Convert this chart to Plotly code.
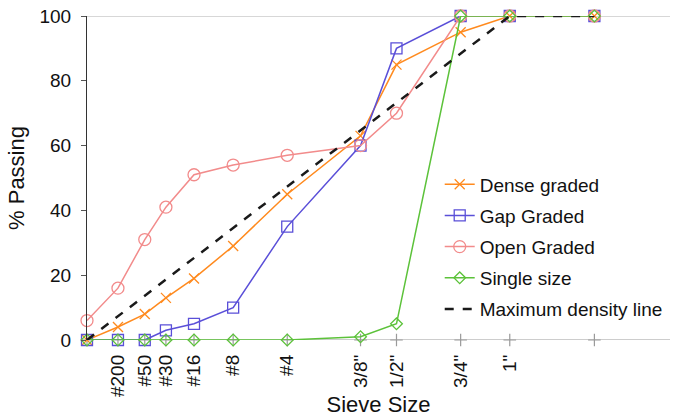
import plotly.graph_objects as go

# Sieve sizes (mm) and labels; pan represented as 0
sieve_mm = [0, 0.075, 0.3, 0.6, 1.18, 2.36, 4.75, 9.5, 12.5, 19.0, 25.0, 37.5]
sieve_labels = ["", "#200", "#50", "#30", "#16", "#8", "#4", "3/8\"", "1/2\"", "3/4\"", "1\"", ""]

dense = [0, 4, 8, 13, 19, 29, 45, 63, 85, 95, 100, 100]
gap = [0, 0, 0, 3, 5, 10, 35, 60, 90, 100, 100, 100]
open_g = [6, 16, 31, 41, 51, 54, 57, 60, 70, 100, 100, 100]
single = [0, 0, 0, 0, 0, 0, 0, 1, 5, 100, 100, 100]

maxden_mm = [0, 25.0, 37.5]
maxden_val = [0, 100, 100]

POW = 0.45
def xs(v):
    return [s ** POW for s in v]

X = xs(sieve_mm)

fig = go.Figure()

# "+" tick marks along the x axis
fig.add_trace(go.Scatter(
    x=X, y=[0] * len(X), mode="markers", showlegend=False, hoverinfo="skip",
    marker=dict(symbol="cross-thin", size=9, line=dict(color="#9a9a9a", width=1.2)),
    cliponaxis=False))

series = [
    ("Dense graded", dense, "#FF8A1E", "x-thin-open", 10),
    ("Gap Graded", gap, "#5A4FD8", "square-open", 11),
    ("Open Graded", open_g, "#F28B8B", "circle-open", 12),
    ("Single size", single, "#5CC23A", "diamond-open", 9),
]
for i, (name, vals, col, sym, sz) in enumerate(series):
    fig.add_trace(go.Scatter(
        x=X, y=vals, name=name, mode="lines+markers", legendgroup=f"g{i}",
        line=dict(color=col, width=1.5),
        marker=dict(symbol=sym, size=sz, color=col, line=dict(color=col, width=1.3)),
        cliponaxis=False))

fig.add_trace(go.Scatter(
    x=xs(maxden_mm), y=maxden_val, name="Maximum density line", mode="lines",
    legendgroup="g9", line=dict(color="#1a1a1a", width=2.5, dash="dash"),
    cliponaxis=False))

font_family = "Liberation Sans, Arial, sans-serif"

fig.update_layout(
    width=674, height=417,
    margin=dict(l=87, r=4, t=16, b=77),
    plot_bgcolor="white", paper_bgcolor="white",
    font=dict(family=font_family, size=19, color="#111111"),
    showlegend=True,
    legend=dict(x=0.605, y=0.539, xanchor="left", yanchor="top",
                bgcolor="rgba(0,0,0,0)", font=dict(size=19),
                tracegroupgap=3.5, itemwidth=30, traceorder="grouped"),
    xaxis=dict(range=[0, 5.87], tickmode="array", tickvals=X, ticktext=sieve_labels,
               tickangle=-90, showgrid=False, zeroline=False, showline=False,
               ticks="", tickfont=dict(size=19), ticklabelstandoff=10,
               title=dict(text="Sieve Size", font=dict(size=22), standoff=2)),
    yaxis=dict(range=[0, 100], tickvals=[0, 20, 40, 60, 80, 100],
               showgrid=False, zeroline=False, showline=True, linecolor="#333333",
               linewidth=1.2, ticks="outside", ticklen=5, tickcolor="#555555",
               tickfont=dict(size=19), ticklabelstandoff=6,
               title=dict(text="% Passing", font=dict(size=22), standoff=8)),
    shapes=[
        dict(type="line", xref="paper", yref="y", x0=0, x1=1, y0=100, y1=100,
             line=dict(color="#b0b0b0", width=1), layer="below"),
        dict(type="line", xref="paper", yref="y", x0=0, x1=1, y0=0, y1=0,
             line=dict(color="#9a9a9a", width=1), layer="below"),
    ],
)

fig.write_html("out.html")
